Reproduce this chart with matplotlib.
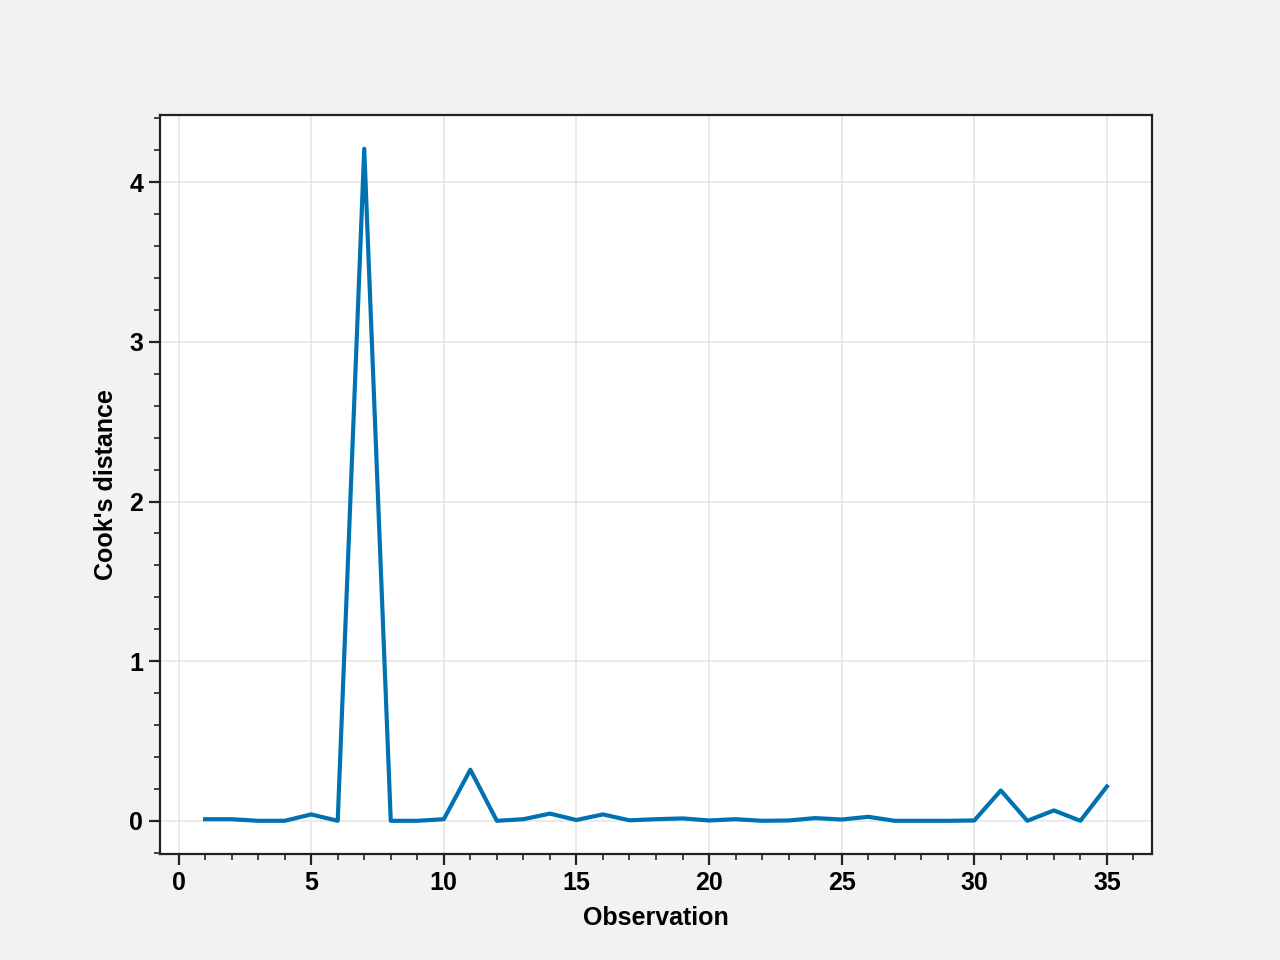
import numpy as np
import matplotlib
matplotlib.use("Agg")
from matplotlib import pyplot as plt
from matplotlib.ticker import MultipleLocator

# Dane
observation = np.arange(1, 36)
cooks_distance = [0.01, 0.01, 0.0, 0.0, 0.04, 0.0, 4.21, 0.0, 0.0, 0.01,
                  0.32, 0.0, 0.01, 0.045, 0.005, 0.04, 0.003, 0.01, 0.015, 0.002,
                  0.01, 0.0, 0.002, 0.017, 0.008, 0.025, 0.0, 0.0, 0.0, 0.002,
                  0.19, 0.0, 0.065, 0.0, 0.215]

plt.rcParams['font.family'] = ['Liberation Sans', 'DejaVu Sans']
plt.rcParams['font.weight'] = 'bold'
plt.rcParams['font.size'] = 9

fig, ax = plt.subplots(figsize=(6.4, 4.8), dpi=200)
fig.patch.set_facecolor('#f2f2f2')
ax.set_facecolor('white')

ax.plot(observation, cooks_distance, color='#0072B2', linewidth=1.5)

ax.xaxis.set_major_locator(MultipleLocator(5))
ax.xaxis.set_minor_locator(MultipleLocator(1))
ax.yaxis.set_major_locator(MultipleLocator(1))
ax.yaxis.set_minor_locator(MultipleLocator(0.2))

ax.grid(True, which='major', color='#e6e6e6', linewidth=0.6)
ax.set_axisbelow(True)

for spine in ax.spines.values():
    spine.set_linewidth(0.8)
    spine.set_color('#222222')

ax.tick_params(which='major', direction='out', length=4, width=0.8, color='#222222', pad=2)
ax.tick_params(which='minor', direction='out', length=2, width=0.6, color='#222222')

ax.set_xlabel('Observation', fontweight='bold')
ax.set_ylabel("Cook's distance", fontweight='bold')

fig.savefig('out.png', dpi=200, facecolor=fig.get_facecolor())
